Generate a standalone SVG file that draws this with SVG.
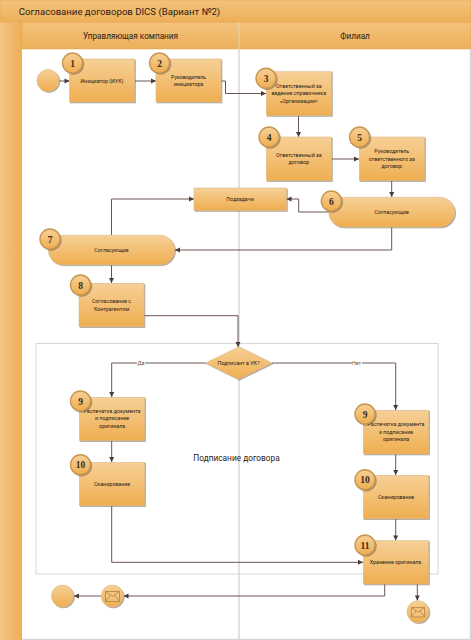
<svg xmlns="http://www.w3.org/2000/svg" width="471" height="640" viewBox="0 0 471 640">
<defs>
<linearGradient id="g" x1="0" y1="0" x2="0" y2="1"><stop offset="0" stop-color="#f6d097"/><stop offset="1" stop-color="#efae50"/></linearGradient>
<linearGradient id="h" x1="0" y1="0" x2="0" y2="1"><stop offset="0" stop-color="#f3c27c"/><stop offset="1" stop-color="#eeb059"/></linearGradient>
<linearGradient id="s" x1="0" y1="0" x2="1" y2="0"><stop offset="0" stop-color="#f3c584"/><stop offset="1" stop-color="#eeae55"/></linearGradient>
<filter id="sh" x="-20%" y="-20%" width="140%" height="140%"><feDropShadow dx="1" dy="1" stdDeviation="0.7" flood-color="#6b5a48" flood-opacity="0.55"/></filter>
<marker id="a" viewBox="0 0 6 6" refX="5.5" refY="3" markerWidth="6" markerHeight="6" markerUnits="userSpaceOnUse" orient="auto"><path d="M0.5 0.5L5.5 3L0.5 5.5Z" fill="#4a3b35"/></marker>
<symbol id="env" viewBox="0 0 15 11" overflow="visible"><path d="M0.5 0.5H14.5V10.5H0.5Z M0.5 0.5L7.5 5.5L14.5 0.5 M0.5 10.5L5.5 4 M14.5 10.5L9.5 4" fill="#f6d8a8" fill-opacity="0.3" stroke="#b0803f" stroke-width="0.8"/></symbol>
</defs>
<style>
text{font-family:Roboto,"Open Sans","Liberation Sans",sans-serif;fill:#2b2118;text-anchor:middle}
.n{fill:url(#g);stroke:#d9b98a;stroke-width:0.6;filter:url(#sh)}
.b{fill:url(#g);stroke:#c9974f;stroke-width:1.4;filter:url(#sh)}
.t{font-size:5.3px}
.bt{font-size:9.5px;font-family:"Liberation Serif","DejaVu Serif",serif;font-weight:bold;fill:#3a2c1c}
.c{fill:none;stroke:#6a5650;stroke-width:1;marker-end:url(#a)}
.lane{fill:none;stroke:#d9d5d1;stroke-width:1.4}
.lbl{font-size:5.3px;fill:#5a4f48}
</style>
<rect width="471" height="640" fill="#fff"/>
<g id="frame">
<rect x="0" y="22" width="22" height="618" fill="url(#s)"/>
<rect x="22" y="22" width="449" height="27" fill="url(#h)" stroke="#e4a958" stroke-width="0.6"/>
<rect x="0" y="0" width="471" height="22" fill="url(#h)" stroke="#e4a958" stroke-width="0.6"/>
<path class="lane" d="M22 639.5H471M470.5 49V640"/>
<path d="M239 22V49" stroke="#e0d4c0" stroke-width="1"/>
<text x="119.5" y="14.5" style="font-size:9.6px">Согласование договоров DICS (Вариант №2)</text>
<text x="130.5" y="38.5" style="font-size:8.2px">Управляющая компания</text>
<text x="355" y="38.5" style="font-size:8.2px">Филиал</text>
</g>
<g id="group-box">
<rect x="36" y="343.5" width="402" height="230.5" fill="none" stroke="#d9d5d1" stroke-width="1"/>
<path class="lane" d="M239 49V640"/>
<text x="236.5" y="461" style="font-size:8.3px">Подписание договора</text>
</g>
<g id="connectors">
<path class="c" d="M59 81H69.5"/>
<path class="c" d="M134.5 81H156"/>
<path class="c" d="M221 81H225.5V93.5H266"/>
<path class="c" d="M298.5 115.5V137"/>
<path class="c" d="M331.5 159H359"/>
<path class="c" d="M391.7 181V197"/>
<path class="c" d="M329 212H298.7V199H286.5"/>
<path class="c" d="M391.7 227V250H175"/>
<path class="c" d="M111.5 235V199H194"/>
<path class="c" d="M111.5 265V283"/>
<path class="c" d="M144 315.7H238V347"/>
<path class="c" d="M206 363H111.7V397"/>
<path class="c" d="M272 363H395.7V410"/>
<path class="c" d="M111.7 441V462"/>
<path class="c" d="M395.7 454V475"/>
<path class="c" d="M111.7 506V562.3H363"/>
<path class="c" d="M395.7 519V540.5"/>
<path class="c" d="M384.7 584V596H123.5"/>
<path class="c" d="M101 596H74"/>
<path class="c" d="M417.3 584V600.5"/>
<rect x="137" y="359.5" width="8" height="7" fill="#fff"/>
<text class="lbl" x="141" y="365">Да</text>
<rect x="352" y="359.5" width="10" height="7" fill="#fff"/>
<text class="lbl" x="356.5" y="365">Нет</text>
</g>
<g id="start"><circle class="n" cx="48" cy="80.5" r="11"/></g>
<g id="n1"><rect class="n" x="69.5" y="59" width="65" height="43"/><text class="t" x="102" y="82.5">Инициатор (ИУК)</text><circle class="b" cx="72.5" cy="63" r="10"/><text class="bt" x="72.5" y="66.5">1</text></g>
<g id="n2"><rect class="n" x="156" y="59" width="65" height="43"/><text class="t" x="188.5" y="78.5">Руководитель</text><text class="t" x="188.5" y="86">инициатора</text><circle class="b" cx="159.5" cy="63" r="10"/><text class="bt" x="159.5" y="66.5">2</text></g>
<g id="n3"><rect class="n" x="266.3" y="71.7" width="65" height="43.6"/><text class="t" x="298.8" y="88">Ответственный за</text><text class="t" x="298.8" y="95.3">ведение справочника</text><text class="t" x="298.8" y="102.6">«Организации»</text><circle class="b" cx="266" cy="78.3" r="10"/><text class="bt" x="266" y="81.8">3</text></g>
<g id="n4"><rect class="n" x="266.3" y="137" width="65" height="43.6"/><text class="t" x="298.8" y="156.5">Ответственный за</text><text class="t" x="298.8" y="164">договор</text><circle class="b" cx="269" cy="137" r="10"/><text class="bt" x="269" y="140.5">4</text></g>
<g id="n5"><rect class="n" x="359.3" y="137" width="65.3" height="43.6"/><text class="t" x="391.8" y="153">Руководитель</text><text class="t" x="391.8" y="160.5">ответственного за</text><text class="t" x="391.8" y="168">договор</text><circle class="b" cx="359.5" cy="137" r="10"/><text class="bt" x="359.5" y="140.5">5</text></g>
<g id="subtasks"><rect class="n" x="194" y="188" width="92.3" height="22.3"/><text class="t" x="240" y="201">Подзадачи</text></g>
<g id="n6"><rect class="n" x="328.7" y="197.3" width="126" height="29.7" rx="14.8"/><text class="t" x="391.7" y="214">Согласующие</text><circle class="b" cx="331.3" cy="201" r="10"/><text class="bt" x="331.3" y="204.5">6</text></g>
<g id="n7"><rect class="n" x="48.3" y="235.3" width="126.4" height="29.4" rx="14.7"/><text class="t" x="111.5" y="252">Согласующие</text><circle class="b" cx="50" cy="239" r="10"/><text class="bt" x="50" y="242.5">7</text></g>
<g id="n8"><rect class="n" x="79" y="283.3" width="65" height="43.4"/><text class="t" x="111.5" y="303">Согласование с</text><text class="t" x="111.5" y="310.5">Контрагентом</text><circle class="b" cx="80.5" cy="285" r="10"/><text class="bt" x="80.5" y="288.5">8</text></g>
<g id="decision"><path class="n" d="M239 346.7L272 363L238.5 379.3L205.7 363Z"/><text class="t" x="238.5" y="364.8">Подписант в УК?</text></g>
<g id="n9l"><rect class="n" x="79.3" y="397.3" width="65.4" height="43.4"/><text class="t" x="112" y="413">Распечатка документа</text><text class="t" x="112" y="420.3">и подписание</text><text class="t" x="112" y="427.8">оригинала</text><circle class="b" cx="80.5" cy="401" r="10"/><text class="bt" x="80.5" y="404.5">9</text></g>
<g id="n10l"><rect class="n" x="79.3" y="462.3" width="65.4" height="43.4"/><text class="t" x="112" y="486">Сканирование</text><circle class="b" cx="80.5" cy="464.7" r="10"/><text class="bt" x="80.5" y="468.2">10</text></g>
<g id="n9r"><rect class="n" x="363.3" y="410.3" width="65.4" height="43.7"/><text class="t" x="396" y="426.3">Распечатка документа</text><text class="t" x="396" y="433.6">и подписание</text><text class="t" x="396" y="441">оригинала</text><circle class="b" cx="365" cy="414" r="10"/><text class="bt" x="365" y="417.5">9</text></g>
<g id="n10r"><rect class="n" x="363.3" y="475.3" width="65.4" height="43.4"/><text class="t" x="396" y="499">Сканирование</text><circle class="b" cx="365" cy="479.7" r="10"/><text class="bt" x="365" y="483.2">10</text></g>
<g id="n11"><rect class="n" x="363.3" y="540.7" width="65.2" height="43.3"/><text class="t" x="395.5" y="564">Хранение оригинала</text><circle class="b" cx="365" cy="545" r="10"/><text class="bt" x="365" y="548.5">11</text></g>
<g id="end"><circle class="n" cx="62.5" cy="596" r="11"/></g>
<g id="msg-left"><circle class="n" cx="112.3" cy="596" r="11"/><use href="#env" x="105" y="591" width="15" height="11"/></g>
<g id="msg-right"><circle class="n" cx="418" cy="611.7" r="11"/><use href="#env" x="411" y="607" width="14" height="10.5"/></g>
</svg>
